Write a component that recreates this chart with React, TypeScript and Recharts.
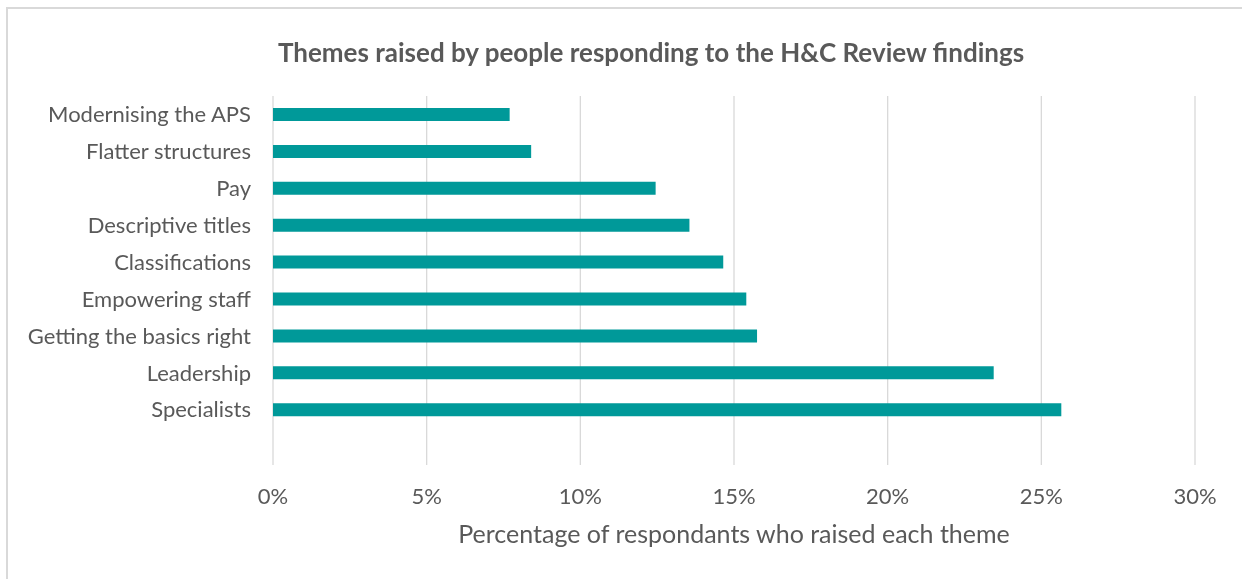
import React from "react";
import {
  BarChart,
  Bar,
  XAxis,
  YAxis,
  CartesianGrid,
  Label,
} from "recharts";

// categories listed top to bottom; Excel leaves one empty slot at the bottom
const themes = [
  "Modernising the APS",
  "Flatter structures",
  "Pay",
  "Descriptive titles",
  "Classifications",
  "Empowering staff",
  "Getting the basics right",
  "Leadership",
  "Specialists",
  "",
];

const percentages = [7.7, 8.4, 12.45, 13.55, 14.65, 15.4, 15.75, 23.45, 25.65, null];

const xTicks = [0, 5, 10, 15, 20, 25, 30];

const data = themes.map((name, i) => ({ name, value: percentages[i] }));

const FONT = "Lato, 'Open Sans', sans-serif";
const TEXT = "#595959";

const App: React.FC = () => {
  return (
    <div
      style={{
        position: "relative",
        width: 1234,
        height: 563,
        overflow: "hidden",
        fontFamily: FONT,
      }}
    >
      {/* chart frame, cropped at the right and bottom like the source image */}
      <div
        style={{
          position: "fixed",
          left: 6,
          top: 7,
          width: 1400,
          height: 700,
          border: "2px solid #d9d9d9",
          pointerEvents: "none",
        }}
      />
      <div
        style={{
          position: "absolute",
          left: 193,
          top: 31,
          width: 900,
          textAlign: "center",
          fontSize: 26,
          lineHeight: 1,
          fontWeight: 700,
          color: TEXT,
          whiteSpace: "nowrap",
        }}
      >
        Themes raised by people responding to the H&amp;C Review findings
      </div>
      <BarChart
        width={1228}
        height={566}
        data={data}
        layout="vertical"
        margin={{ top: 88, right: 41, bottom: 9, left: 0 }}
      >
        <CartesianGrid horizontal={false} stroke="#d9d9d9" strokeWidth={1.3} />
        <XAxis
          type="number"
          domain={[0, 30]}
          ticks={xTicks}
          tickFormatter={(v: number) => `${v}%`}
          axisLine={false}
          tickLine={false}
          tickMargin={17}
          height={100}
          tick={{ fill: TEXT, fontSize: 22, fontFamily: FONT }}
        >
          <Label
            value="Percentage of respondants who raised each theme"
            position="insideBottom"
            offset={22}
            style={{ fill: TEXT, fontSize: 25, fontFamily: FONT }}
          />
        </XAxis>
        <YAxis
          type="category"
          dataKey="name"
          width={265}
          axisLine={false}
          tickLine={false}
          tickMargin={16}
          interval={0}
          tick={{ fill: TEXT, fontSize: 22, fontFamily: FONT }}
        />
        <Bar dataKey="value" fill="#009999" barSize={13} isAnimationActive={false} />
      </BarChart>
    </div>
  );
};

export default App;
